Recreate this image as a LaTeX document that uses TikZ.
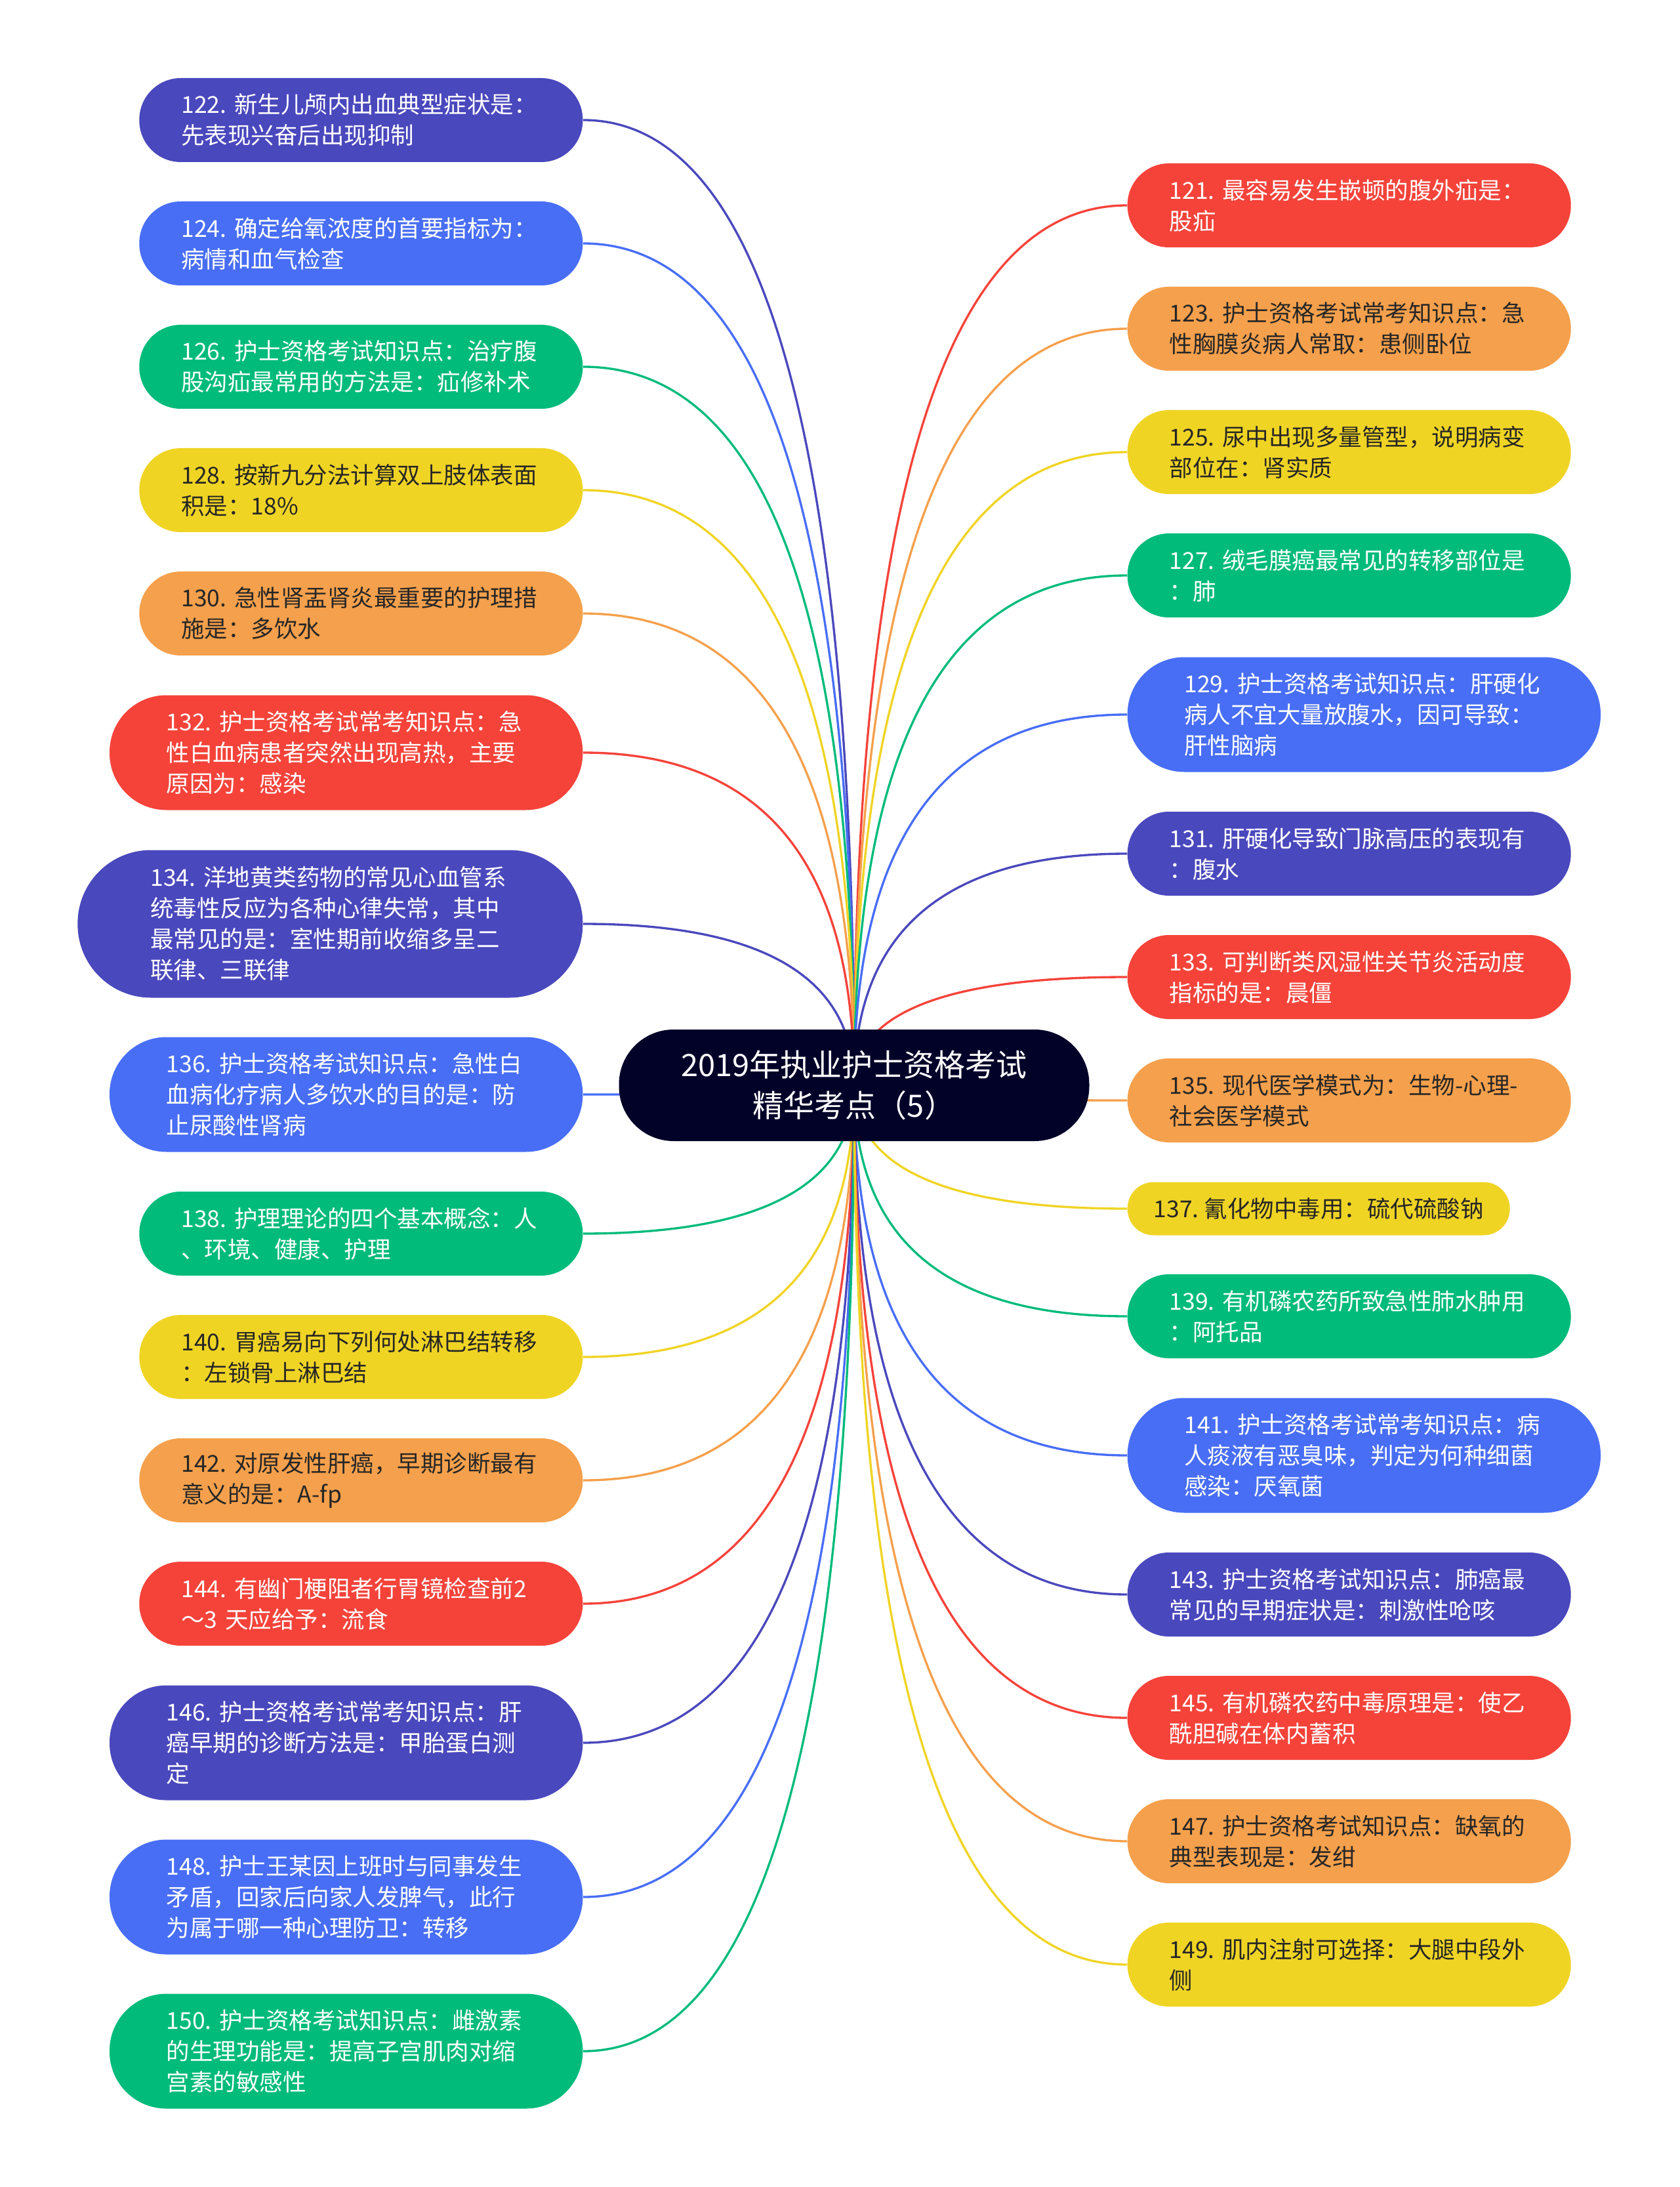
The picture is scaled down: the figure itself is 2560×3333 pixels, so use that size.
\documentclass[tikz,border=0pt]{standalone}
\usepackage{fontspec}
\setmainfont{Noto Sans CJK SC}
\usetikzlibrary{calc}
\pgfdeclarelayer{bg}
\pgfsetlayers{bg,main}
\definecolor{cInd}{RGB}{74,72,189}
\definecolor{cBlue}{RGB}{72,110,246}
\definecolor{cGreen}{RGB}{0,187,122}
\definecolor{cYel}{RGB}{240,212,36}
\definecolor{cOra}{RGB}{245,160,76}
\definecolor{cRed}{RGB}{245,67,58}
\definecolor{cRoot}{RGB}{2,1,40}
\definecolor{cTxt}{RGB}{38,38,38}
\newcommand\leaffont{\fontsize{10.65pt}{14.1pt}\selectfont}
\newcommand\rootfont{\fontsize{14.1pt}{18.6pt}\selectfont}
\tikzset{
  leaf/.style={rectangle, align=left, text width=164.4pt, inner ysep=0pt, font=\leaffont},
  h2/.style={leaf, minimum height=38.4pt, rounded corners=19pt, inner xsep=19.2pt},
  h3/.style={leaf, minimum height=52.5pt, rounded corners=26pt, inner xsep=26pt},
  h4/.style={leaf, minimum height=67.5pt, rounded corners=33.5pt, inner xsep=33.3pt},
  h1/.style={rectangle, align=left, minimum height=24.3pt, rounded corners=12pt, inner xsep=12pt, inner ysep=0pt, font=\leaffont},
  ind/.style={fill=cInd, text=white},
  blu/.style={fill=cBlue, text=white},
  grn/.style={fill=cGreen, text=white},
  yel/.style={fill=cYel, text=cTxt},
  ora/.style={fill=cOra, text=cTxt},
  red/.style={fill=cRed, text=white},
  conn/.style={line width=1pt},
  rootbox/.style={rectangle, fill=cRoot, text=white, align=center, font=\rootfont,
    minimum width=215.1pt, minimum height=51pt, rounded corners=25pt, inner sep=0pt}
}
\newcommand\mmlink[3]{%
  \draw[conn,draw=#3] (c.center) .. controls ($(c.center)!0.6667!(c.center |- #1.#2)$) and ($(#1.#2)!0.6667!(c.center |- #1.#2)$) .. (#1.#2);}
\begin{document}
\begin{tikzpicture}[x=0.3pt,y=-0.3pt]
\useasboundingbox (0,0) rectangle (2560,3333);
\node[rootbox] (c) at (1302,1654) {2019年执业护士资格考试\\精华考点（5）};
% left
\node[h2,ind,anchor=east] (n122) at (889,183) {122.~新生儿颅内出血典型症状是：\\先表现兴奋后出现抑制};
\node[h2,blu,anchor=east] (n124) at (889,371) {124.~确定给氧浓度的首要指标为：\\病情和血气检查};
\node[h2,grn,anchor=east] (n126) at (889,559) {126.~护士资格考试知识点：治疗腹\\股沟疝最常用的方法是：疝修补术};
\node[h2,yel,anchor=east] (n128) at (889,747) {128.~按新九分法计算双上肢体表面\\积是：18\%};
\node[h2,ora,anchor=east] (n130) at (889,935) {130.~急性肾盂肾炎最重要的护理措\\施是：多饮水};
\node[h3,red,anchor=east] (n132) at (889,1147) {132.~护士资格考试常考知识点：急\\性白血病患者突然出现高热，主要\\原因为：感染};
\node[h4,ind,anchor=east] (n134) at (889,1408) {134.~洋地黄类药物的常见心血管系\\统毒性反应为各种心律失常，其中\\最常见的是：室性期前收缩多呈二\\联律、三联律};
\node[h3,blu,anchor=east] (n136) at (889,1668) {136.~护士资格考试知识点：急性白\\血病化疗病人多饮水的目的是：防\\止尿酸性肾病};
\node[h2,grn,anchor=east] (n138) at (889,1880) {138.~护理理论的四个基本概念：人\\、环境、健康、护理};
\node[h2,yel,anchor=east] (n140) at (889,2068) {140.~胃癌易向下列何处淋巴结转移\\：左锁骨上淋巴结};
\node[h2,ora,anchor=east] (n142) at (889,2256) {142.~对原发性肝癌，早期诊断最有\\意义的是：A-fp};
\node[h2,red,anchor=east] (n144) at (889,2444) {144.~有幽门梗阻者行胃镜检查前2\\～3 天应给予：流食};
\node[h3,ind,anchor=east] (n146) at (889,2656) {146.~护士资格考试常考知识点：肝\\癌早期的诊断方法是：甲胎蛋白测\\定};
\node[h3,blu,anchor=east] (n148) at (889,2891) {148.~护士王某因上班时与同事发生\\矛盾，回家后向家人发脾气，此行\\为属于哪一种心理防卫：转移};
\node[h3,grn,anchor=east] (n150) at (889,3126) {150.~护士资格考试知识点：雌激素\\的生理功能是：提高子宫肌肉对缩\\宫素的敏感性};
% right
\node[h2,red,anchor=west] (n121) at (1718,313) {121.~最容易发生嵌顿的腹外疝是：\\股疝};
\node[h2,ora,anchor=west] (n123) at (1718,501) {123.~护士资格考试常考知识点：急\\性胸膜炎病人常取：患侧卧位};
\node[h2,yel,anchor=west] (n125) at (1718,689) {125.~尿中出现多量管型，说明病变\\部位在：肾实质};
\node[h2,grn,anchor=west] (n127) at (1718,877) {127.~绒毛膜癌最常见的转移部位是\\：肺};
\node[h3,blu,anchor=west] (n129) at (1718,1089) {129.~护士资格考试知识点：肝硬化\\病人不宜大量放腹水，因可导致：\\肝性脑病};
\node[h2,ind,anchor=west] (n131) at (1718,1301) {131.~肝硬化导致门脉高压的表现有\\：腹水};
\node[h2,red,anchor=west] (n133) at (1718,1489) {133.~可判断类风湿性关节炎活动度\\指标的是：晨僵};
\node[h2,ora,anchor=west] (n135) at (1718,1677) {135.~现代医学模式为：生物-心理-\\社会医学模式};
\node[h1,yel,anchor=west] (n137) at (1718,1842) {137.~氰化物中毒用：硫代硫酸钠};
\node[h2,grn,anchor=west] (n139) at (1718,2006) {139.~有机磷农药所致急性肺水肿用\\：阿托品};
\node[h3,blu,anchor=west] (n141) at (1718,2218) {141.~护士资格考试常考知识点：病\\人痰液有恶臭味，判定为何种细菌\\感染：厌氧菌};
\node[h2,ind,anchor=west] (n143) at (1718,2430) {143.~护士资格考试知识点：肺癌最\\常见的早期症状是：刺激性呛咳};
\node[h2,red,anchor=west] (n145) at (1718,2618) {145.~有机磷农药中毒原理是：使乙\\酰胆碱在体内蓄积};
\node[h2,ora,anchor=west] (n147) at (1718,2806) {147.~护士资格考试知识点：缺氧的\\典型表现是：发绀};
\node[h2,yel,anchor=west] (n149) at (1718,2994) {149.~肌内注射可选择：大腿中段外\\侧};
\begin{pgfonlayer}{bg}
\fill[white] (0,0) rectangle (2560,3333);
\mmlink{n122}{east}{cInd}
\mmlink{n124}{east}{cBlue}
\mmlink{n126}{east}{cGreen}
\mmlink{n128}{east}{cYel}
\mmlink{n130}{east}{cOra}
\mmlink{n132}{east}{cRed}
\mmlink{n134}{east}{cInd}
\mmlink{n136}{east}{cBlue}
\mmlink{n138}{east}{cGreen}
\mmlink{n140}{east}{cYel}
\mmlink{n142}{east}{cOra}
\mmlink{n144}{east}{cRed}
\mmlink{n146}{east}{cInd}
\mmlink{n148}{east}{cBlue}
\mmlink{n150}{east}{cGreen}
\mmlink{n121}{west}{cRed}
\mmlink{n123}{west}{cOra}
\mmlink{n125}{west}{cYel}
\mmlink{n127}{west}{cGreen}
\mmlink{n129}{west}{cBlue}
\mmlink{n131}{west}{cInd}
\mmlink{n133}{west}{cRed}
\mmlink{n135}{west}{cOra}
\mmlink{n137}{west}{cYel}
\mmlink{n139}{west}{cGreen}
\mmlink{n141}{west}{cBlue}
\mmlink{n143}{west}{cInd}
\mmlink{n145}{west}{cRed}
\mmlink{n147}{west}{cOra}
\mmlink{n149}{west}{cYel}
\end{pgfonlayer}
\end{tikzpicture}
\end{document}
